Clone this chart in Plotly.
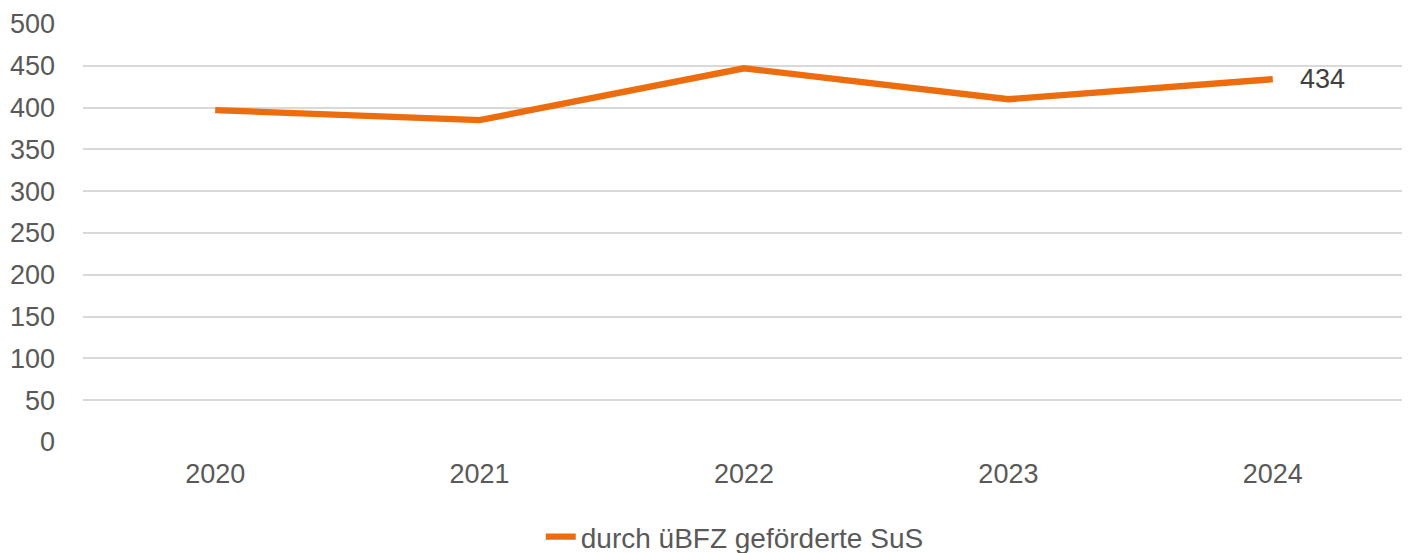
import plotly.graph_objects as go

years = ["2020", "2021", "2022", "2023", "2024"]
values = [397, 385, 447, 410, 434]
series_name = "durch üBFZ geförderte SuS"
y_ticks = [0, 50, 100, 150, 200, 250, 300, 350, 400, 450, 500]

orange = "#EC6C0E"
font_family = "Arial, Liberation Sans, sans-serif"

fig = go.Figure()
fig.add_trace(go.Scatter(
    x=years, y=values, mode="lines", name=series_name,
    line=dict(color=orange, width=6.3),
))
fig.add_annotation(
    x=len(years) - 1, y=values[-1], text=str(values[-1]),
    showarrow=False, xanchor="left", xshift=25,
    font=dict(size=27, color="#404040", family=font_family),
)

# page is rendered with an 8px body margin, so the figure is 1402x545
fig.update_layout(
    width=1402, height=545,
    margin=dict(l=75, r=5, t=16, b=111, autoexpand=False),
    plot_bgcolor="white", paper_bgcolor="white",
    font=dict(family=font_family, size=27, color="#595959"),
    showlegend=True,
    legend=dict(
        orientation="h", x=0.493, xanchor="center", y=-0.227, yanchor="middle",
        font=dict(size=28, color="#595959"),
    ),
)
fig.update_xaxes(
    type="category", range=[-0.5, len(years) - 0.5],
    showgrid=False, showline=False, zeroline=False,
    ticks="", ticklabelstandoff=13,
)
fig.update_yaxes(
    range=[0, 500], tickvals=y_ticks, showgrid=True, gridcolor="#D9D9D9",
    gridwidth=1.8, zeroline=False, showline=False, ticks="",
    ticklabelstandoff=27,
)

fig.write_html("out.html")
